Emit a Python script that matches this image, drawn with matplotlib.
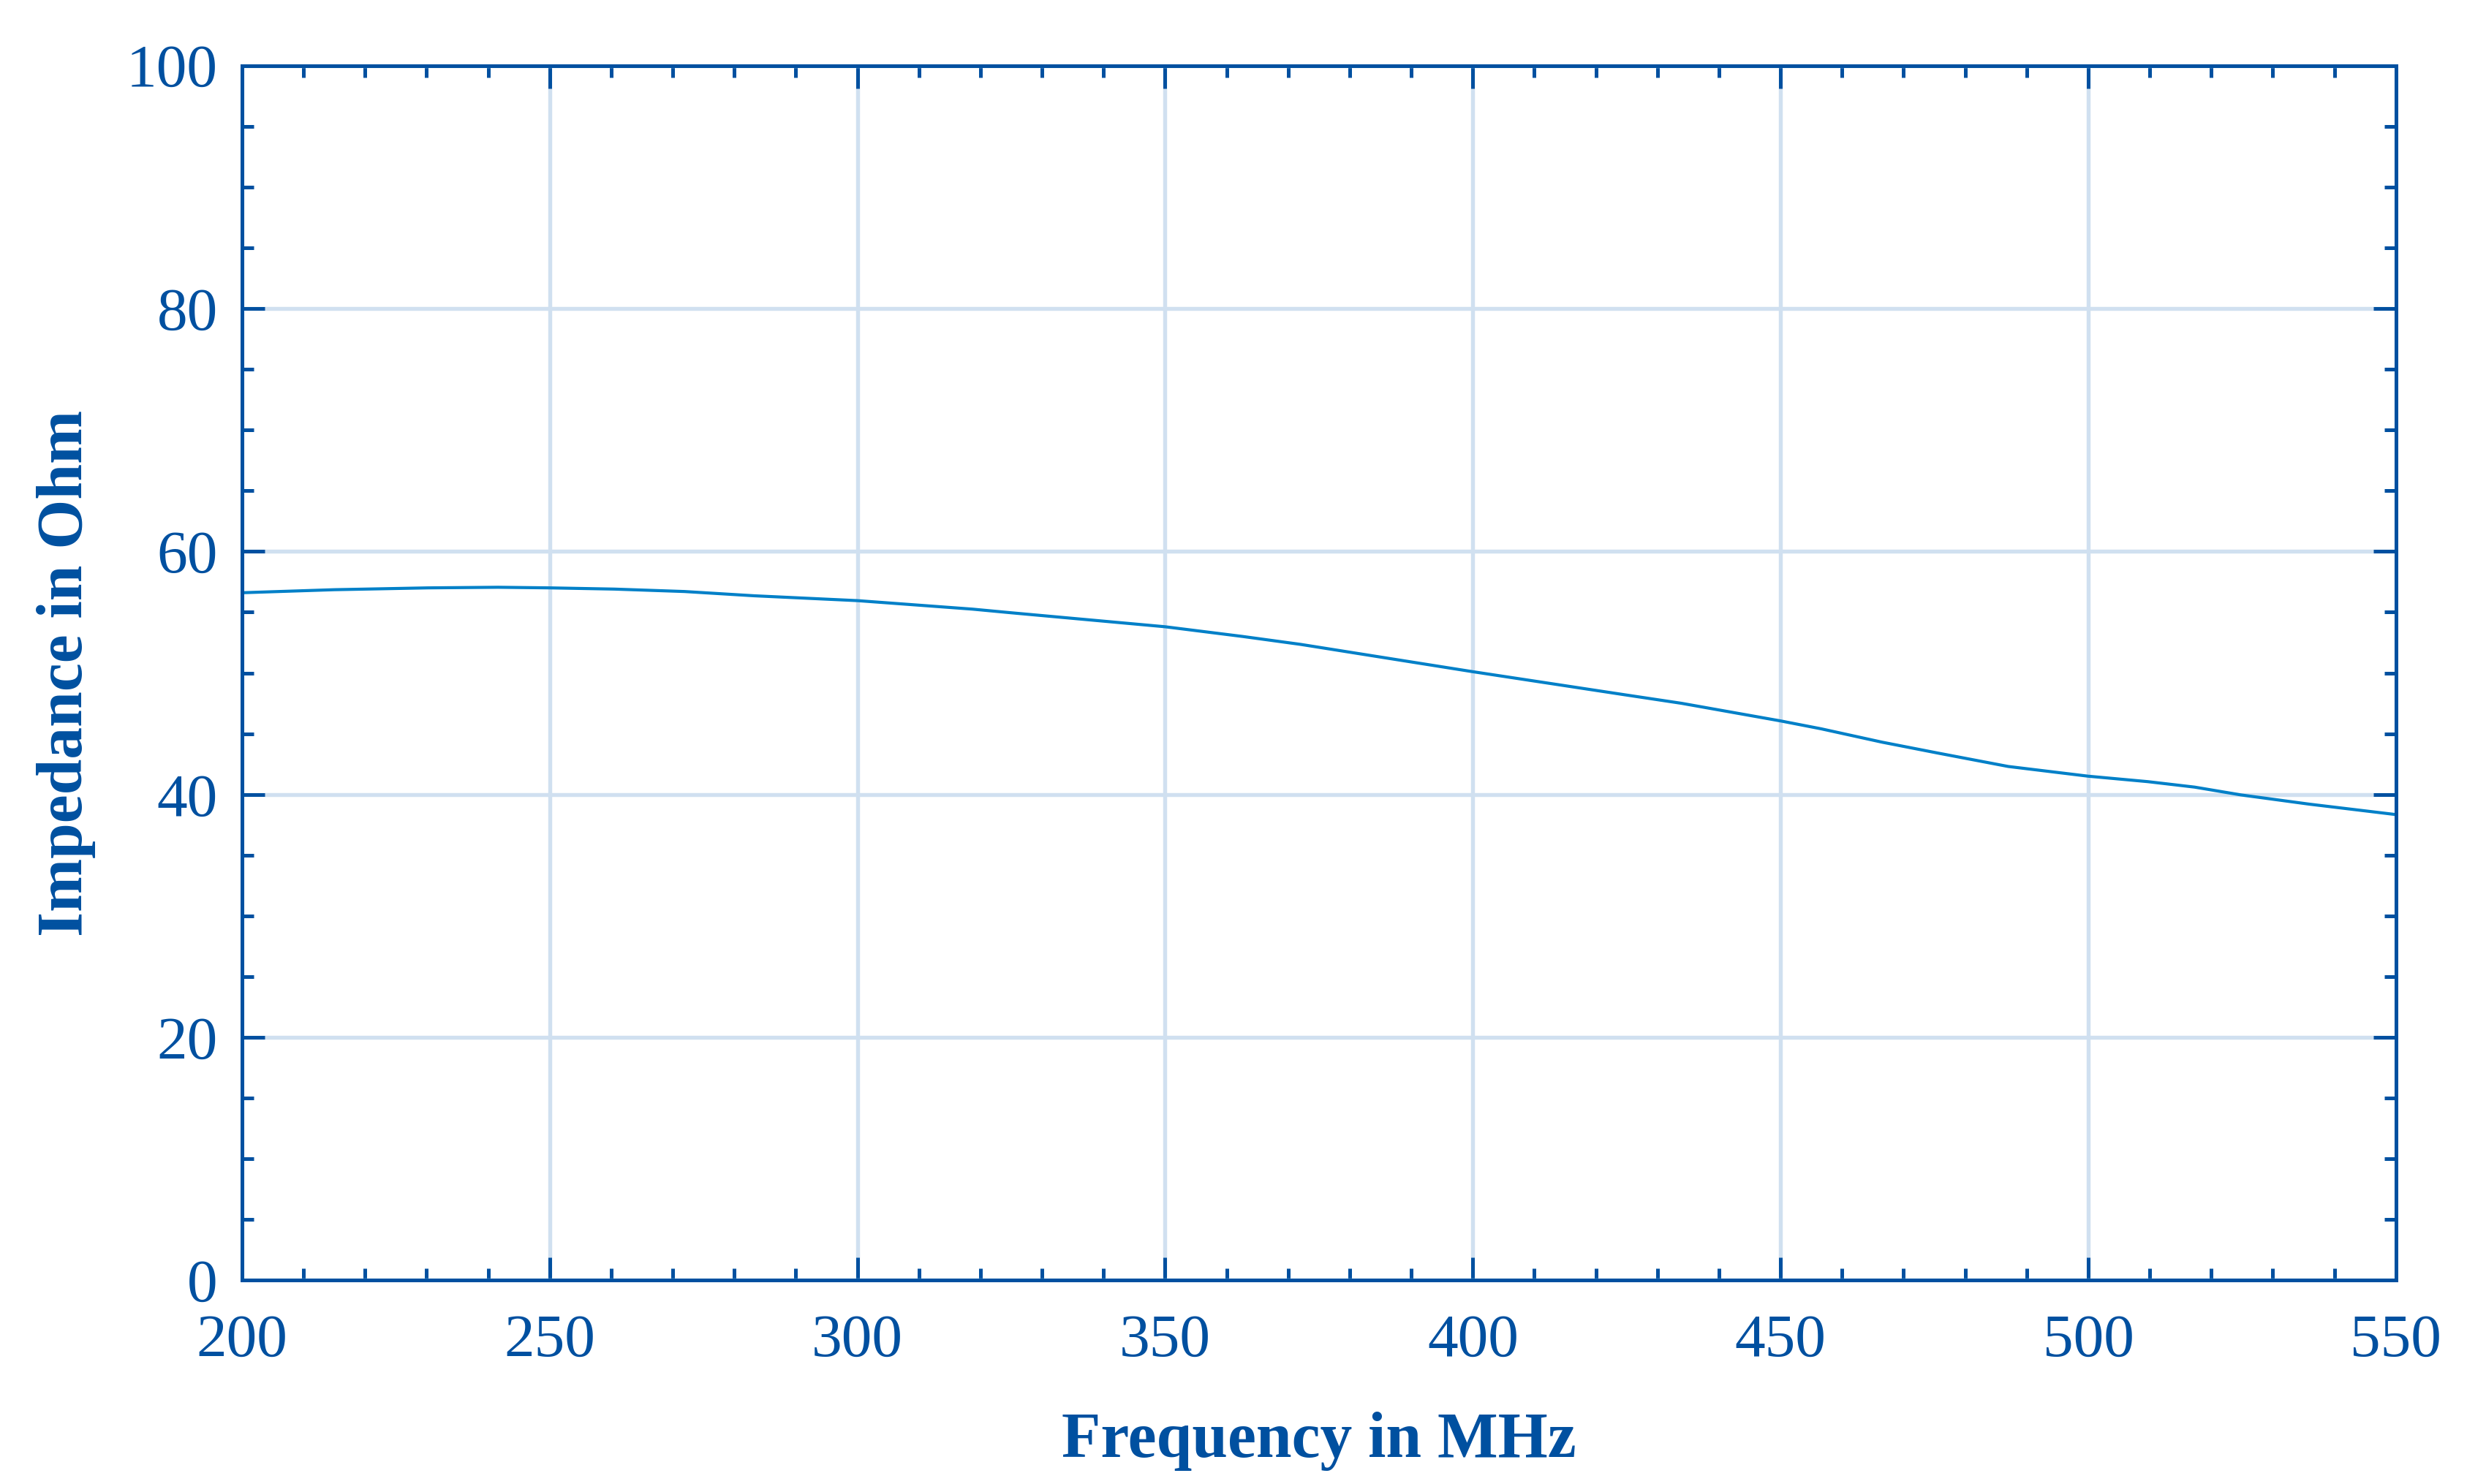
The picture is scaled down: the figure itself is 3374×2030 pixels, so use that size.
import matplotlib
matplotlib.use("Agg")
import matplotlib.pyplot as plt
from matplotlib.ticker import MultipleLocator

# frequency (MHz) and impedance (Ohm)
freq = [200, 215, 230.2, 241.6, 250, 260.5, 271.9, 283.2, 300, 318.7, 325, 350,
        362.6, 372, 386.3, 400, 424.7, 433.9, 450, 456.6, 466.5, 475.6, 487,
        500, 509.7, 517.3, 524.8, 535.9, 550]
impedance = [56.6, 56.85, 57.0, 57.05, 57.0, 56.9, 56.7, 56.35, 55.95, 55.25,
             54.95, 53.8, 53.0, 52.35, 51.2, 50.1, 48.2, 47.5, 46.05, 45.4, 44.3,
             43.4, 42.3, 41.5, 41.05, 40.6, 39.96, 39.2, 38.34]

dark = "#0050a0"
line_col = "#0080c8"
grid_col = "#d0e0f0"

plt.rcParams['font.family'] = ['Liberation Serif', 'DejaVu Serif']

fig = plt.figure(figsize=(3374 / 300, 2030 / 300), dpi=300)
ax = fig.add_axes([0.0981, 0.1372, 0.9712 - 0.0981, 0.9559 - 0.1372])

ax.plot(freq, impedance, color=line_col, linewidth=1.0)

ax.set_xlim(200, 550)
ax.set_ylim(0, 100)
ax.xaxis.set_major_locator(MultipleLocator(50))
ax.xaxis.set_minor_locator(MultipleLocator(10))
ax.yaxis.set_major_locator(MultipleLocator(20))
ax.yaxis.set_minor_locator(MultipleLocator(5))

ax.grid(True, which='major', color=grid_col, linewidth=1.3)
ax.set_axisbelow(True)

for s in ax.spines.values():
    s.set_color(dark)
    s.set_linewidth(1.2)

ax.tick_params(which='both', direction='in', top=True, right=True,
               color=dark, labelcolor=dark, width=1.2, labelsize=20)
ax.tick_params(which='major', length=7.5)
ax.tick_params(which='minor', length=3.8)
ax.tick_params(axis='x', which='major', pad=11)
ax.tick_params(axis='y', which='major', pad=8)

ax.set_xlabel("Frequency in MHz", fontsize=21, fontweight='bold', color=dark, labelpad=14)
ax.set_ylabel("Impedance in Ohm", fontsize=21, fontweight='bold', color=dark, labelpad=10)

fig.savefig("out.png", dpi=300)
